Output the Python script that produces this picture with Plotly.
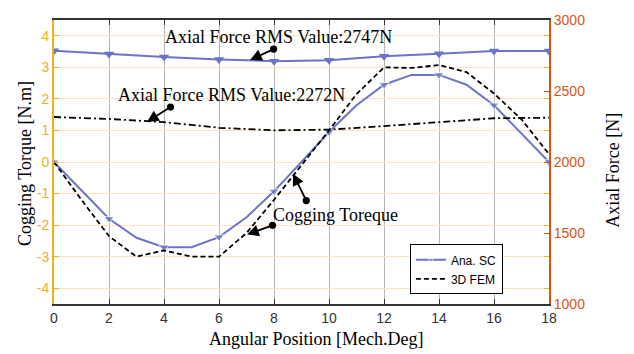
import plotly.graph_objects as go

# ---- data ----
angle_full = [0, 1, 2, 3, 4, 5, 6, 7, 8, 9, 10, 11, 12, 13, 14, 15, 16, 17, 18]
cog_ana = [0, -0.9, -1.8, -2.4, -2.7, -2.7, -2.38, -1.75, -0.93, 0.0, 0.95, 1.8, 2.45, 2.76, 2.76, 2.45, 1.8, 0.9, 0.0]
cog_fem = [0, -1.2, -2.35, -3.0, -2.8, -3.0, -3.0, -2.25, -1.2, -0.1, 1.0, 2.15, 3.0, 2.98, 3.07, 2.85, 2.17, 1.35, 0.25]

angle_even = [0, 2, 4, 6, 8, 10, 12, 14, 16, 18]
force_ana = [2784, 2761, 2740, 2722, 2710, 2717, 2745, 2763, 2781, 2781]
force_fem = [2317, 2303, 2281, 2241, 2223, 2228, 2253, 2281, 2308, 2312]

x_ticks = [0, 2, 4, 6, 8, 10, 12, 14, 16, 18]
y_ticks = [-4, -3, -2, -1, 0, 1, 2, 3, 4]
y_ticktext = ["-4", "-3", "-2", "-1", "0", "1", "2", "3", "4"]
y2_ticks = [1000, 1500, 2000, 2500, 3000]

BLUE = "#6B74C6"
GOLD = "#EDB120"
RED = "#D95319"
SERIF = "Liberation Serif"
SANS = "Liberation Sans"

marker_sizes = [9 if a % 2 == 0 else 0 for a in angle_full]

fig = go.Figure()
fig.add_trace(go.Scatter(x=angle_full, y=cog_ana, mode="lines+markers", name="Ana. SC",
                         line=dict(color=BLUE, width=2),
                         marker=dict(symbol="triangle-down", size=marker_sizes, color=BLUE)))
fig.add_trace(go.Scatter(x=angle_full, y=cog_fem, mode="lines", name="3D FEM",
                         line=dict(color="black", width=1.8, dash="5px,3px")))
fig.add_trace(go.Scatter(x=angle_even, y=force_ana, mode="lines+markers", yaxis="y2", showlegend=False,
                         line=dict(color=BLUE, width=2),
                         marker=dict(symbol="triangle-down", size=9, color=BLUE)))
fig.add_trace(go.Scatter(x=angle_even, y=force_fem, mode="lines", yaxis="y2", showlegend=False,
                         line=dict(color="black", width=1.8, dash="7px,3px,2px,3px")))

def arrow(x, y, ax, ay):
    return dict(x=x, y=y, ax=ax, ay=ay, xref="x", yref="y", axref="x", ayref="y",
                text="", showarrow=True, arrowside="end+start", arrowhead=2, startarrowhead=6,
                arrowsize=1.3, startarrowsize=1.0, arrowwidth=1.8, arrowcolor="black")

def title(text, x, y, angle=0):
    return dict(x=x, y=y, xref="paper", yref="paper", text=text, showarrow=False,
                textangle=angle, xanchor="center", yanchor="middle",
                font=dict(family=SERIF, size=18, color="black"))

annotations = [
    dict(x=8.15, y=3.97, xref="x", yref="y", text="Axial Force RMS Value:2747N", showarrow=False,
         font=dict(family=SERIF, size=18, color="black")),
    dict(x=6.44, y=2.11, xref="x", yref="y", text="Axial Force RMS Value:2272N", showarrow=False,
         font=dict(family=SERIF, size=18, color="black")),
    dict(x=10.22, y=-1.67, xref="x", yref="y", text="Cogging Toreque", showarrow=False,
         font=dict(family=SERIF, size=18, color="black")),
    arrow(7.13, 3.23, 8.04, 3.60),
    arrow(3.38, 1.27, 4.29, 1.77),
    arrow(8.69, -0.37, 9.2, -1.27),
    arrow(7.02, -2.30, 8.0, -1.99),
    title("Angular Position [Mech.Deg]", 0.529, -0.124),
    title("Cogging Torque [N.m]", -0.0586, 0.4966, -90),
    title("Axial Force [N]", 1.129, 0.472, -90),
]

fig.update_layout(
    width=634, height=354,
    margin=dict(l=54, r=85, t=14, b=50),
    paper_bgcolor="white", plot_bgcolor="white",
    showlegend=True,
    legend=dict(x=0.719, y=0.21, xanchor="left", yanchor="top",
                bgcolor="white", bordercolor="black", borderwidth=1,
                font=dict(family=SANS, size=12, color="black"),
                tracegroupgap=0, itemwidth=30),
    xaxis=dict(range=[0, 18], tickvals=x_ticks, ticks="inside", ticklen=5, tickcolor="#333333",
               showline=True, linecolor="#333333", linewidth=1.5, mirror="ticks",
               showgrid=True, gridcolor="#B5B5B5", gridwidth=1, zeroline=False,
               tickfont=dict(family=SANS, size=14, color="#333333")),
    yaxis=dict(range=[-4.5, 4.5], tickvals=y_ticks, ticktext=y_ticktext, ticks="inside", ticklen=5,
               tickcolor=GOLD, showline=True, linecolor=GOLD, linewidth=2, mirror="ticks",
               showgrid=True, gridcolor="#FAE6BA", gridwidth=1, zeroline=False,
               tickfont=dict(family=SANS, size=14, color=GOLD)),
    yaxis2=dict(range=[1000, 3000], tickvals=y2_ticks, overlaying="y", side="right", anchor="x",
                ticks="inside", ticklen=5, tickcolor=RED, showline=True, linecolor=RED, linewidth=2,
                showgrid=False, zeroline=False,
                tickfont=dict(family=SANS, size=14, color=RED)),
    annotations=annotations,
)

fig.write_html("out.html")
